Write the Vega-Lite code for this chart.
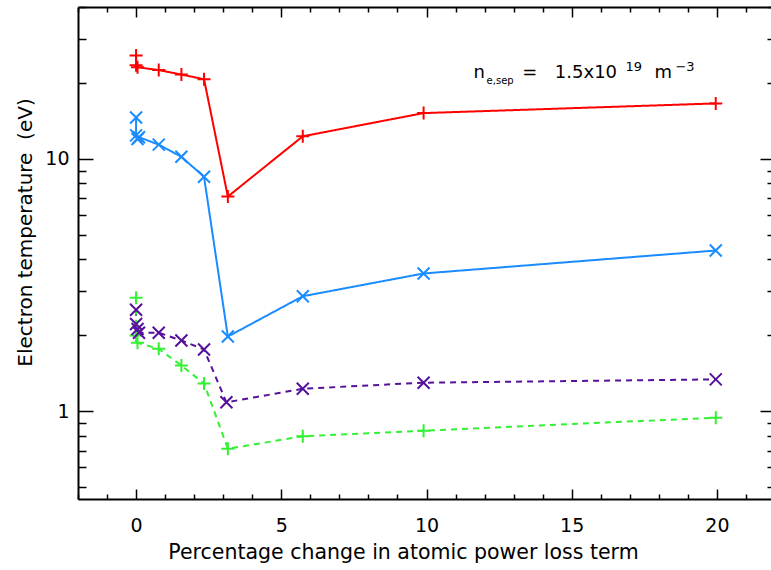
{
  "$schema": "https://vega.github.io/schema/vega-lite/v6.json",
  "width": 697,
  "height": 492,
  "autosize": {"type": "none"},
  "padding": {"left": 78, "top": 7, "right": 0, "bottom": 71},
  "background": "white",
  "config": {"view": {"stroke": null}, "font": "DejaVu Sans"},
  "datasets": {
    "series": [
      {"s": "red", "o": 1, "x": 0, "y": 25.7},
      {"s": "red", "o": 2, "x": 0, "y": 23.5},
      {"s": "red", "o": 3, "x": 0.05, "y": 23.1},
      {"s": "red", "o": 4, "x": 0.78, "y": 22.5},
      {"s": "red", "o": 5, "x": 1.56, "y": 21.6},
      {"s": "red", "o": 6, "x": 2.34, "y": 20.7},
      {"s": "red", "o": 7, "x": 3.16, "y": 7.1},
      {"s": "red", "o": 8, "x": 5.74, "y": 12.3},
      {"s": "red", "o": 9, "x": 9.9, "y": 15.2},
      {"s": "red", "o": 10, "x": 19.96, "y": 16.6},
      {"s": "blue", "o": 1, "x": 0, "y": 14.6},
      {"s": "blue", "o": 2, "x": 0, "y": 12.4},
      {"s": "blue", "o": 3, "x": 0.05, "y": 12.0},
      {"s": "blue", "o": 4, "x": 0.1, "y": 12.2},
      {"s": "blue", "o": 5, "x": 0.78, "y": 11.4},
      {"s": "blue", "o": 6, "x": 1.56, "y": 10.2},
      {"s": "blue", "o": 7, "x": 2.34, "y": 8.5},
      {"s": "blue", "o": 8, "x": 3.16, "y": 1.98},
      {"s": "blue", "o": 9, "x": 5.74, "y": 2.86},
      {"s": "blue", "o": 10, "x": 9.9, "y": 3.52},
      {"s": "blue", "o": 11, "x": 19.96, "y": 4.34},
      {"s": "purple", "o": 1, "x": 0, "y": 2.53},
      {"s": "purple", "o": 2, "x": 0, "y": 2.22},
      {"s": "purple", "o": 3, "x": 0.05, "y": 2.12},
      {"s": "purple", "o": 4, "x": 0.1, "y": 2.05},
      {"s": "purple", "o": 5, "x": 0.78, "y": 2.05},
      {"s": "purple", "o": 6, "x": 1.56, "y": 1.91},
      {"s": "purple", "o": 7, "x": 2.34, "y": 1.76},
      {"s": "purple", "o": 8, "x": 3.11, "y": 1.087},
      {"s": "purple", "o": 9, "x": 5.74, "y": 1.23},
      {"s": "purple", "o": 10, "x": 9.9, "y": 1.3},
      {"s": "purple", "o": 11, "x": 19.96, "y": 1.34},
      {"s": "green", "o": 1, "x": 0, "y": 2.82},
      {"s": "green", "o": 2, "x": 0, "y": 2.0},
      {"s": "green", "o": 3, "x": 0.05, "y": 1.87},
      {"s": "green", "o": 4, "x": 0.78, "y": 1.77},
      {"s": "green", "o": 5, "x": 1.56, "y": 1.52},
      {"s": "green", "o": 6, "x": 2.34, "y": 1.29},
      {"s": "green", "o": 7, "x": 3.16, "y": 0.712},
      {"s": "green", "o": 8, "x": 5.74, "y": 0.797},
      {"s": "green", "o": 9, "x": 9.9, "y": 0.839},
      {"s": "green", "o": 10, "x": 19.96, "y": 0.945}
    ],
    "noteMain": [
      {"t": "n", "x": 11.62, "y": 20.97},
      {"t": "=", "x": 13.3, "y": 20.97},
      {"t": "1.5x10", "x": 14.42, "y": 20.97},
      {"t": "m", "x": 17.85, "y": 20.97}
    ],
    "noteSub": [
      {"t": "e,sep", "x": 12.07, "y": 19.76}
    ],
    "noteSup": [
      {"t": "19", "x": 16.85, "y": 22.3},
      {"t": "\u22123", "x": 18.57, "y": 22.3}
    ]
  },
  "layer": [
    {
      "data": {"name": "series"},
      "mark": {"type": "point", "opacity": 0},
      "encoding": {
        "x": {
          "field": "x", "type": "quantitative",
          "scale": {"domain": [-2, 22], "nice": false, "zero": false},
          "axis": {
            "orient": "bottom",
            "values": [-2, -1, 0, 1, 2, 3, 4, 5, 6, 7, 8, 9, 10, 11, 12, 13, 14, 15, 16, 17, 18, 19, 20, 21, 22],
            "labelExpr": "datum.value % 5 === 0 ? datum.label : ''",
            "tickSize": {"condition": {"test": "datum.value % 5 === 0", "value": -10}, "value": -5},
            "tickColor": "black", "tickWidth": 1.5,
            "domainColor": "black", "domainWidth": 2,
            "grid": false, "labelFlush": false, "labelOverlap": false,
            "labelFontSize": 19, "labelColor": "black", "labelPadding": 27,
            "title": "Percentage change in atomic power loss term",
            "titleFontSize": 20.5, "titleFontWeight": "normal", "titleColor": "black",
            "titleX": 325, "titleY": 59, "titleBaseline": "alphabetic", "titleAlign": "center"
          }
        },
        "y": {
          "field": "y", "type": "quantitative",
          "scale": {"type": "log", "domain": [0.45, 40], "nice": false},
          "axis": {
            "orient": "left",
            "values": [0.5, 0.6, 0.7, 0.8, 0.9, 1, 2, 3, 4, 5, 6, 7, 8, 9, 10, 20, 30, 40],
            "format": "~g",
            "labelExpr": "(datum.value == 1 || datum.value == 10) ? datum.label : ''",
            "tickSize": {"condition": {"test": "datum.value == 1 || datum.value == 10", "value": -15}, "value": -8},
            "tickColor": "black", "tickWidth": 1.5,
            "domainColor": "black", "domainWidth": 2,
            "grid": false, "labelFlush": false, "labelOverlap": false,
            "labelFontSize": 19, "labelColor": "black", "labelPadding": 24,
            "title": "Electron temperature \u00a0(eV)",
            "titleFontSize": 20, "titleFontWeight": "normal", "titleColor": "black",
            "titleX": -53, "titleY": 225, "titleBaseline": "middle", "titleAlign": "center"
          }
        }
      }
    },
    {
      "data": {"name": "series"},
      "mark": {"type": "point", "opacity": 0},
      "encoding": {
        "x": {
          "field": "x", "type": "quantitative",
          "axis": {
            "orient": "top",
            "values": [-2, -1, 0, 1, 2, 3, 4, 5, 6, 7, 8, 9, 10, 11, 12, 13, 14, 15, 16, 17, 18, 19, 20, 21, 22],
            "labels": false, "title": null, "grid": false,
            "tickSize": {"condition": {"test": "datum.value % 5 === 0", "value": -10}, "value": -5},
            "tickColor": "black", "tickWidth": 1.5,
            "domainColor": "black", "domainWidth": 2
          }
        },
        "y": {
          "field": "y", "type": "quantitative",
          "axis": {
            "orient": "right",
            "values": [0.5, 0.6, 0.7, 0.8, 0.9, 1, 2, 3, 4, 5, 6, 7, 8, 9, 10, 20, 30, 40],
            "labels": false, "title": null, "grid": false,
            "tickSize": {"condition": {"test": "datum.value == 1 || datum.value == 10", "value": -15}, "value": -8},
            "tickColor": "black", "tickWidth": 1.5,
            "domainColor": "black", "domainWidth": 2
          }
        }
      }
    },
    {
      "data": {"name": "series"},
      "mark": {"type": "line", "strokeWidth": 2},
      "encoding": {
        "x": {"field": "x", "type": "quantitative", "axis": null},
        "y": {"field": "y", "type": "quantitative", "axis": null},
        "order": {"field": "o"},
        "color": {"field": "s", "type": "nominal", "legend": null,
          "scale": {"domain": ["red", "blue", "purple", "green"], "range": ["#ff0000", "#1a8cff", "#55119a", "#33f033"]}},
        "strokeDash": {"field": "s", "type": "nominal", "legend": null,
          "scale": {"domain": ["red", "blue", "purple", "green"], "range": [[1, 0], [1, 0], [6, 5], [6, 5]]}}
      }
    },
    {
      "data": {"name": "series"},
      "transform": [{"filter": "datum.s == 'red' || datum.s == 'green'"}],
      "mark": {"type": "point", "shape": "M-1,0L1,0M0,-1L0,1", "size": 169, "filled": false, "strokeWidth": 2, "opacity": 1},
      "encoding": {
        "x": {"field": "x", "type": "quantitative", "axis": null},
        "y": {"field": "y", "type": "quantitative", "axis": null},
        "color": {"field": "s", "type": "nominal", "legend": null,
          "scale": {"domain": ["red", "blue", "purple", "green"], "range": ["#ff0000", "#1a8cff", "#55119a", "#33f033"]}}
      }
    },
    {
      "data": {"name": "series"},
      "transform": [{"filter": "datum.s == 'blue' || datum.s == 'purple'"}],
      "mark": {"type": "point", "shape": "M-1,-1L1,1M-1,1L1,-1", "size": 144, "filled": false, "strokeWidth": 2, "opacity": 1},
      "encoding": {
        "x": {"field": "x", "type": "quantitative", "axis": null},
        "y": {"field": "y", "type": "quantitative", "axis": null},
        "color": {"field": "s", "type": "nominal", "legend": null,
          "scale": {"domain": ["red", "blue", "purple", "green"], "range": ["#ff0000", "#1a8cff", "#55119a", "#33f033"]}}
      }
    },
    {
      "data": {"name": "noteMain"},
      "mark": {"type": "text", "align": "left", "baseline": "alphabetic", "fontSize": 18, "color": "black"},
      "encoding": {
        "x": {"field": "x", "type": "quantitative", "axis": null},
        "y": {"field": "y", "type": "quantitative", "axis": null},
        "text": {"field": "t"}
      }
    },
    {
      "data": {"name": "noteSub"},
      "mark": {"type": "text", "align": "left", "baseline": "alphabetic", "fontSize": 10, "color": "black"},
      "encoding": {
        "x": {"field": "x", "type": "quantitative", "axis": null},
        "y": {"field": "y", "type": "quantitative", "axis": null},
        "text": {"field": "t"}
      }
    },
    {
      "data": {"name": "noteSup"},
      "mark": {"type": "text", "align": "left", "baseline": "alphabetic", "fontSize": 13, "color": "black"},
      "encoding": {
        "x": {"field": "x", "type": "quantitative", "axis": null},
        "y": {"field": "y", "type": "quantitative", "axis": null},
        "text": {"field": "t"}
      }
    }
  ],
  "resolve": {"axis": {"x": "independent", "y": "independent"}}
}
